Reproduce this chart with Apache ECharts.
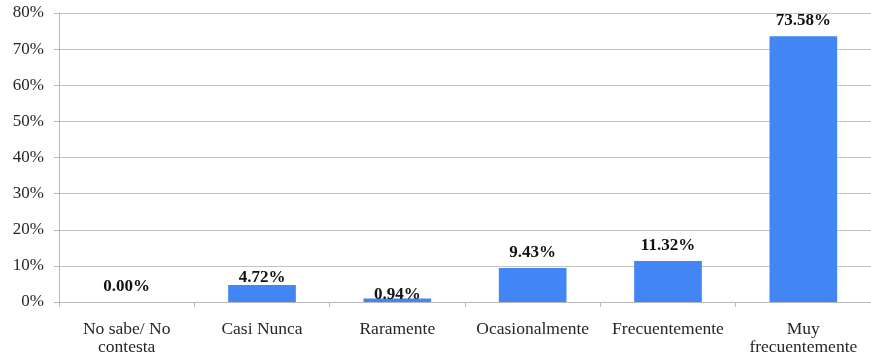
<!DOCTYPE html>
<html>
<head>
<meta charset="utf-8">
<script src="https://cdn.jsdelivr.net/npm/echarts@6/dist/echarts.min.js"></script>
<style>
  html, body { margin: 0; padding: 0; background: #ffffff; }
  #chart { width: 871px; height: 358px; }
</style>
</head>
<body>
<div id="chart"></div>
<script>
// Response categories (bottom axis)
const categories = [
  'No sabe/ No\ncontesta',
  'Casi Nunca',
  'Raramente',
  'Ocasionalmente',
  'Frecuentemente',
  'Muy\nfrecuentemente'
];

// Share of responses, in percent
const percentages = [0.00, 4.72, 0.94, 9.43, 11.32, 73.58];

// Value-axis range and step, in percent
const yMin = 0;
const yMax = 80;
const yStep = 10;

// Gap between a value label and its bar, per bar
const labelGaps = [7, -1, -5, 7, 7, 7];

const serif = '"Liberation Serif", "Times New Roman", serif';

const chart = echarts.init(document.getElementById('chart'));

chart.setOption({
  animation: false,
  backgroundColor: '#ffffff',
  grid: { left: 59, right: -4, top: 13, bottom: 56, containLabel: false },
  xAxis: {
    type: 'category',
    data: categories,
    boundaryGap: true,
    axisLine: { show: true, lineStyle: { color: '#b8b8b8', width: 1 } },
    axisTick: { show: true, length: 5, alignWithLabel: false, lineStyle: { color: '#b8b8b8' } },
    axisLabel: {
      interval: 0,
      margin: 18,
      fontFamily: serif,
      fontSize: 17.5,
      lineHeight: 18,
      color: '#262626'
    }
  },
  yAxis: {
    type: 'value',
    min: yMin,
    max: yMax,
    interval: yStep,
    axisLine: { show: true, lineStyle: { color: '#b8b8b8', width: 1 } },
    axisTick: { show: true, length: 5, lineStyle: { color: '#b8b8b8' } },
    splitLine: { show: true, lineStyle: { color: '#c4c4c4', width: 1 } },
    axisLabel: {
      margin: 15,
      fontFamily: serif,
      fontSize: 17,
      color: '#262626',
      formatter: v => v + '%'
    }
  },
  series: [{
    type: 'bar',
    barWidth: '50%',
    data: percentages.map((v, i) => ({
      value: v,
      label: { distance: labelGaps[i] }
    })),
    itemStyle: { color: '#4285f4' },
    label: {
      show: true,
      position: 'top',
      fontFamily: serif,
      fontSize: 17,
      fontWeight: 'bold',
      color: '#111111',
      formatter: p => p.value.toFixed(2) + '%'
    }
  }]
});
</script>
</body>
</html>
